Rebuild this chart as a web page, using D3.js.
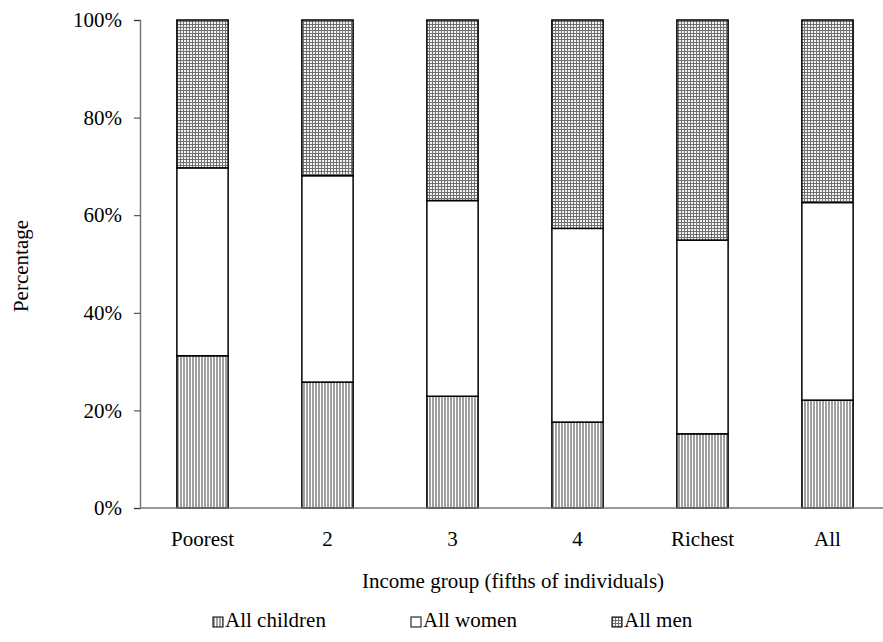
<!DOCTYPE html>
<html>
<head>
<meta charset="utf-8">
<script src="https://cdn.jsdelivr.net/npm/d3@7"></script>
<style>
  body { margin: 0; background: #fff; }
</style>
</head>
<body>
<svg id="chart" width="883" height="642"></svg>
<script>
// income groups and shares (percent)
const groups = ['Poorest', '2', '3', '4', 'Richest', 'All'];
const children = [31.2, 25.8, 22.9, 17.6, 15.2, 22.1];
const women = [38.5, 42.3, 40.1, 39.7, 39.7, 40.5];
const men = [30.3, 31.9, 37.0, 42.7, 45.1, 37.4];
const seriesNames = ['All children', 'All women', 'All men'];
const yTicks = [0, 20, 40, 60, 80, 100];

const serif = "'Liberation Serif', 'Times New Roman', Times, serif";
const fontSize = 21;

const svg = d3.select('#chart');
const plotLeft = 140, plotRight = 890, plotTop = 20, plotBottom = 508;

const defs = svg.append('defs');
const vert = defs.append('pattern')
  .attr('id', 'pat-children')
  .attr('patternUnits', 'userSpaceOnUse')
  .attr('width', 3).attr('height', 3);
vert.append('rect').attr('width', 3).attr('height', 3).attr('fill', '#fff');
vert.append('rect').attr('width', 2).attr('height', 3).attr('fill', '#a0a0a0');

const grid = defs.append('pattern')
  .attr('id', 'pat-men')
  .attr('patternUnits', 'userSpaceOnUse')
  .attr('width', 3).attr('height', 3);
grid.append('rect').attr('width', 3).attr('height', 3).attr('fill', '#707070');
grid.append('rect').attr('x', 1).attr('y', 1).attr('width', 2).attr('height', 2).attr('fill', '#f4f4f4');

const fills = ['url(#pat-children)', '#fff', 'url(#pat-men)'];

const x = d3.scaleBand()
  .domain(groups)
  .range([plotLeft, plotRight])
  .paddingInner(0.59)
  .paddingOuter(0.295);

const y = d3.scaleLinear().domain([0, 100]).range([plotBottom, plotTop]);

const rows = groups.map((g, i) => ({
  group: g,
  'All children': children[i],
  'All women': women[i],
  'All men': men[i]
}));
const stacked = d3.stack().keys(seriesNames)(rows);

// bars
svg.append('g')
  .selectAll('g')
  .data(stacked)
  .join('g')
  .attr('fill', (d, i) => fills[i])
  .selectAll('rect')
  .data(d => d)
  .join('rect')
  .attr('x', d => x(d.data.group))
  .attr('y', d => y(d[1]))
  .attr('width', x.bandwidth())
  .attr('height', d => y(d[0]) - y(d[1]))
  .attr('stroke', '#000')
  .attr('stroke-width', 1.5);

// y axis
const yAxis = svg.append('g')
  .attr('transform', `translate(${plotLeft},0)`)
  .call(d3.axisLeft(y).tickValues(yTicks).tickFormat(d => d + '%').tickSize(6).tickPadding(12));
yAxis.attr('font-family', null).attr('font-size', null);
yAxis.select('.domain').attr('stroke', '#777').attr('stroke-width', 1.5);
yAxis.selectAll('.tick line').attr('stroke', '#333');
yAxis.selectAll('.tick text')
  .attr('x', -18)
  .style('font-family', serif)
  .style('font-size', fontSize + 'px');

// x axis baseline
svg.append('line')
  .attr('x1', plotLeft).attr('x2', 883)
  .attr('y1', plotBottom).attr('y2', plotBottom)
  .attr('stroke', '#777').attr('stroke-width', 1.5);

const label = (sel, tx, ty, extra = '') => sel
  .style('font-family', serif)
  .style('font-size', fontSize + 'px')
  .attr('fill', '#000')
  .attr('transform', `translate(${tx},${ty}) ${extra}`);

// category labels
svg.append('g')
  .selectAll('text')
  .data(groups)
  .join('text')
  .each(function (d) {
    label(d3.select(this), x(d) + x.bandwidth() / 2, 546);
  })
  .attr('text-anchor', 'middle')
  .text(d => d);

svg.append('text')
  .call(label, 513, 588)
  .attr('text-anchor', 'middle')
  .text('Income group (fifths of individuals)');

svg.append('text')
  .call(label, 28, 266, 'rotate(-90)')
  .attr('text-anchor', 'middle')
  .text('Percentage');

// legend
const legendX = [213, 411, 612];
const legend = svg.append('g')
  .selectAll('g')
  .data(seriesNames)
  .join('g')
  .attr('transform', (d, i) => `translate(${legendX[i]},617)`);
legend.append('rect')
  .attr('width', 10).attr('height', 10)
  .attr('fill', (d, i) => fills[i])
  .attr('stroke', '#000').attr('stroke-width', 1);
legend.append('text')
  .call(label, 12, 10)
  .text(d => d);
</script>
</body>
</html>
